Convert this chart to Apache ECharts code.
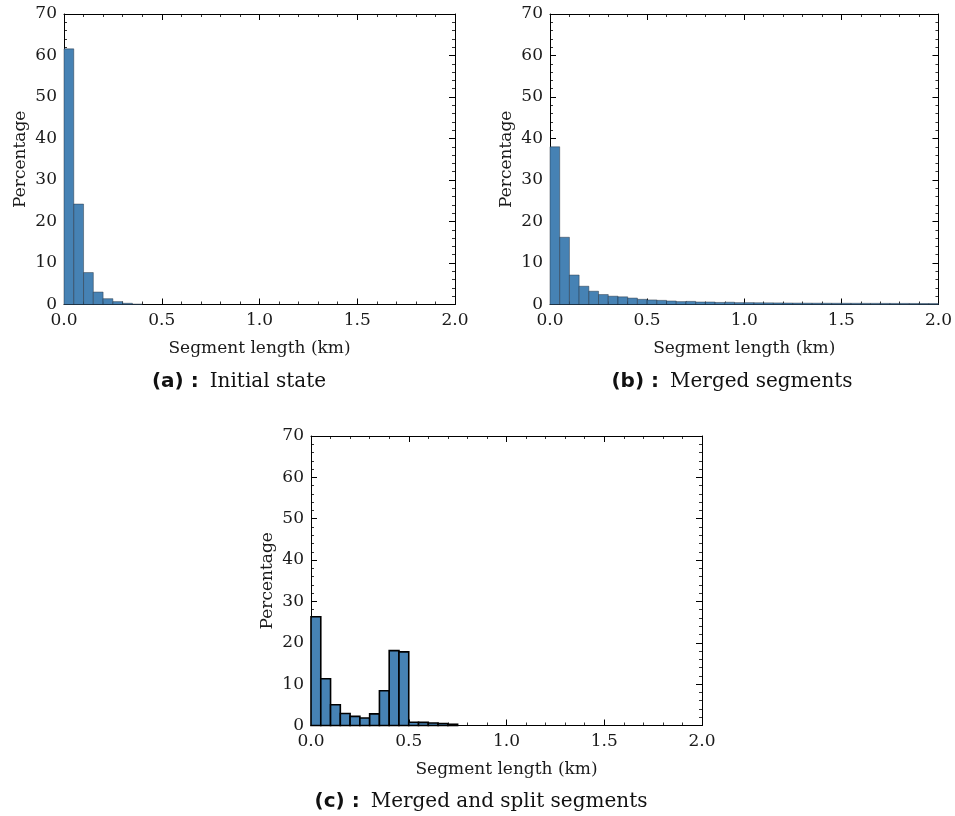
<!DOCTYPE html>
<html>
<head>
<meta charset="utf-8">
<script src="https://cdn.jsdelivr.net/npm/echarts@6/dist/echarts.min.js"></script>
<style>
  html, body { margin: 0; padding: 0; background: #fff; }
  #chart { width: 955px; height: 816px; }
</style>
</head>
<body>
<div id="chart"></div>
<script>
// Histogram bins: 0.05 km wide, covering 0–2 km
const binWidth = 0.05;
const binCount = 40;

// Percentage of segments per bin
const initialState = [61.6, 24.2, 7.7, 3.0, 1.4, 0.7, 0.3, 0.1];
const mergedSegments = [38.0, 16.2, 7.1, 4.4, 3.2, 2.4, 2.0, 1.85, 1.55, 1.25,
  1.1, 1.0, 0.85, 0.7, 0.75, 0.6, 0.6, 0.5, 0.55, 0.45,
  0.45, 0.42, 0.4, 0.38, 0.36, 0.34, 0.33, 0.32, 0.31, 0.3,
  0.3, 0.29, 0.28, 0.28, 0.27, 0.26, 0.26, 0.25, 0.24, 0.23];
const mergedSplit = [26.3, 11.3, 5.0, 2.9, 2.2, 1.8, 2.8, 8.4, 18.1, 17.8,
  0.8, 0.75, 0.6, 0.5, 0.3];

const xTicks = ['0.0', '0.5', '1.0', '1.5', '2.0'];
const yTicks = [0, 10, 20, 30, 40, 50, 60, 70];

const captions = [
  ['(a) :', 'Initial state'],
  ['(b) :', 'Merged segments'],
  ['(c) :', 'Merged and split segments']
];
const xTitle = 'Segment length (km)';
const yTitle = 'Percentage';

const serif = 'DejaVu Serif';
const barColor = '#4682b4';
const textColor = '#1a1a1a';

function toBins(values) {
  const out = [];
  for (let i = 0; i < binCount; i++) {
    out.push([i * binWidth, (i + 1) * binWidth, i < values.length ? values[i] : 0]);
  }
  return out;
}

const grids = [
  { left: 64, top: 14, width: 391, height: 290.5 },
  { left: 550, top: 14, width: 390, height: 290.5 },
  { left: 311, top: 436, width: 391, height: 289.5 }
];

const xAxes = [], yAxes = [];
grids.forEach((g, i) => {
  const tickCommon = { show: true, inside: true, length: 6, lineStyle: { color: '#000', width: 1 } };
  const minorCommon = { show: true, splitNumber: 5, length: 3, lineStyle: { color: '#000', width: 0.8 } };
  const lineCommon = { show: true, onZero: false, lineStyle: { color: '#000', width: 1 } };
  // bottom
  xAxes.push({
    type: 'value', gridIndex: i, min: 0, max: 2, interval: 0.5, position: 'bottom',
    axisLine: lineCommon, axisTick: tickCommon, minorTick: minorCommon,
    splitLine: { show: false },
    axisLabel: { margin: 8, fontFamily: serif, fontSize: 17, color: textColor,
      formatter: v => xTicks[Math.round(v / 0.5)] },
    name: xTitle, nameLocation: 'middle', nameGap: 36,
    nameTextStyle: { fontFamily: serif, fontSize: 17, color: textColor }
  });
  // top
  xAxes.push({
    type: 'value', gridIndex: i, min: 0, max: 2, interval: 0.5, position: 'top',
    axisLine: lineCommon, axisTick: tickCommon, minorTick: minorCommon,
    splitLine: { show: false }, axisLabel: { show: false }
  });
  // left
  yAxes.push({
    type: 'value', gridIndex: i, min: 0, max: 70, interval: 10, position: 'left',
    axisLine: lineCommon, axisTick: tickCommon, minorTick: minorCommon,
    splitLine: { show: false },
    axisLabel: { margin: 7, fontFamily: serif, fontSize: 17, color: textColor,
      formatter: v => String(yTicks[Math.round(v / 10)]) },
    name: yTitle, nameLocation: 'middle', nameGap: 35, nameRotate: 90,
    nameTextStyle: { fontFamily: serif, fontSize: 17, color: textColor }
  });
  // right
  yAxes.push({
    type: 'value', gridIndex: i, min: 0, max: 70, interval: 10, position: 'right',
    axisLine: lineCommon, axisTick: tickCommon, minorTick: minorCommon,
    splitLine: { show: false }, axisLabel: { show: false }
  });
});

function histSeries(values, idx, stroke, strokeWidth) {
  return {
    type: 'custom',
    xAxisIndex: idx * 2,
    yAxisIndex: idx * 2,
    data: toBins(values),
    renderItem: (params, api) => {
      const x0 = api.value(0), x1 = api.value(1), v = api.value(2);
      if (v <= 0) return null;
      const pTop = api.coord([x0, v]);
      const pBase = api.coord([x1, 0]);
      return {
        type: 'rect',
        shape: { x: pTop[0], y: pTop[1], width: pBase[0] - pTop[0], height: pBase[1] - pTop[1] },
        style: { fill: barColor, stroke: stroke, lineWidth: strokeWidth }
      };
    }
  };
}

const captionPos = [[239, 382], [732, 382], [481, 802]];
const graphics = captions.map((c, i) => ({
  type: 'text',
  x: captionPos[i][0],
  y: captionPos[i][1],
  style: {
    text: '{b|' + c[0] + '}{s| }{r|' + c[1] + '}',
    align: 'center',
    verticalAlign: 'middle',
    rich: {
      b: { fontFamily: 'DejaVu Sans', fontWeight: 'bold', fontSize: 20, fill: '#111' },
      s: { fontFamily: 'DejaVu Sans', fontSize: 20, width: 11 },
      r: { fontFamily: serif, fontSize: 20, fill: '#111' }
    }
  }
}));

const chart = echarts.init(document.getElementById('chart'), null, { renderer: 'canvas' });
chart.setOption({
  animation: false,
  backgroundColor: '#fff',
  grid: grids,
  xAxis: xAxes,
  yAxis: yAxes,
  series: [
    histSeries(initialState, 0, 'rgba(30,40,50,0.55)', 0.8),
    histSeries(mergedSegments, 1, 'rgba(30,40,50,0.55)', 0.8),
    histSeries(mergedSplit, 2, '#000', 1.6)
  ],
  graphic: graphics
});
</script>
</body>
</html>
